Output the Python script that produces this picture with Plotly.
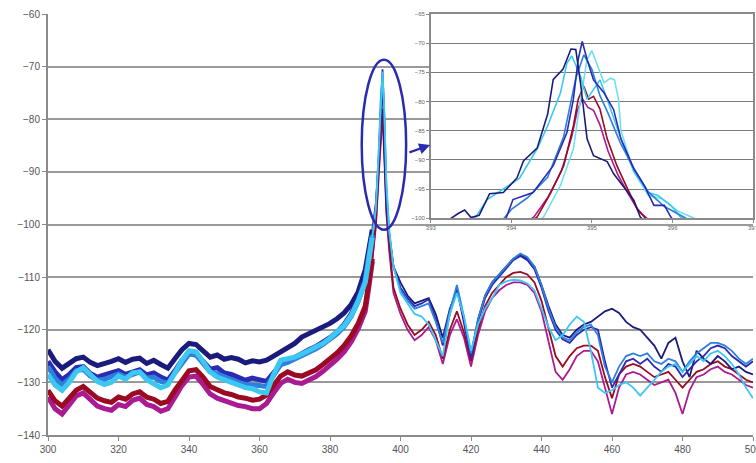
import plotly.graph_objects as go

# ---------------- main spectrum data ----------------
wl_left = list(range(300, 391, 2))
wl_peak = [391, 392, 393, 393.8, 394.4, 394.9, 395.4, 396, 396.8, 398]
wl_right = list(range(400, 501, 2))
wavelength = wl_left + wl_peak + wl_right

navy = [
    -123.8, -126.0, -127.3, -126.5, -125.5, -125.2, -126.2, -126.8, -126.5, -126.0,
    -125.5, -126.2, -125.6, -125.4, -126.4, -125.8, -126.6, -127.3, -125.5, -123.8,
    -122.6, -122.8, -124.0, -125.2, -124.8, -125.6, -125.3, -125.6, -126.3, -125.9,
    -126.1, -125.8, -125.0, -124.2, -123.6, -122.6, -121.4, -120.8, -120.2, -119.6,
    -118.8, -117.9, -116.8, -115.2, -112.8, -108.6,
    -105, -101, -96, -88, -80, -72, -85, -96, -102, -108,
    -111, -113.5, -115, -114.5, -114, -117, -121.5, -116, -112.5, -118,
    -125, -118, -113.5, -111, -109.5, -108, -106.5, -105.8, -106.5, -108,
    -111.5, -115.5, -119, -121, -121.5, -120, -119, -118.5, -117.5, -116.5,
    -116, -116.8, -118.5, -119.5, -120, -121.5, -123, -125.5, -122.5, -121.5,
    -126, -129, -124, -125.5, -126.5, -125, -126, -127.5, -127, -128, -128.5,
]
blue = [
    -126.0, -128.0, -129.5, -128.5, -127.2, -127.0, -128.3, -129.0, -128.6, -128.2,
    -127.8, -128.5, -128.0, -127.6, -128.6, -128.2, -129.0, -129.6, -127.8, -125.8,
    -124.5, -124.8, -126.0, -127.5, -127.2, -128.2, -128.5, -129.0, -129.6, -129.2,
    -129.5, -129.8, -128.2, -126.6, -126.0, -125.2, -124.5, -123.8, -123.2, -122.4,
    -121.5, -120.4, -119.0, -117.0, -114.0, -110.0,
    -106, -102, -97, -88, -78, -70.5, -80, -95, -102, -108,
    -112, -114, -115.5, -115, -114.2, -118, -123, -117, -112, -118.5,
    -125.5, -118.5, -114, -111.5, -110, -108.5, -106.8, -106, -106.8, -108.5,
    -112, -116.5, -120, -121.8, -122.5, -121, -120, -119.5, -120, -126,
    -131, -128.5, -126, -125.5, -126.5, -125.5, -127, -128, -126.5, -127,
    -129, -127.5, -126, -125, -123.5, -123, -123.5, -125, -126, -127, -126,
]
azure = [
    -127.0, -129.2, -130.5, -129.4, -127.8, -127.5, -128.8, -129.6, -129.4, -129.0,
    -128.4, -129.0, -128.4, -128.0, -129.2, -129.0, -129.8, -130.2, -128.2, -126.2,
    -124.6, -124.8, -126.4, -128.0, -128.4, -129.0, -129.4, -130.0, -130.4, -130.4,
    -130.6, -130.8, -128.6, -126.6, -126.2, -125.6, -125.0, -124.3, -123.6, -122.8,
    -121.8, -120.8, -119.4, -117.5, -114.6, -110.8,
    -106, -102, -96.5, -87, -76, -71.5, -79, -93, -101.5, -108,
    -112.5, -114.5, -116, -115.5, -115, -118.5, -122.5, -116.5, -111.5, -117.5,
    -124.5, -118, -113.5, -111, -109.5, -108, -106.5, -105.5, -106.2, -108,
    -111.5, -116, -119.5, -121.5, -122, -120.5, -119.5, -119, -121, -127,
    -130, -127, -125, -124.5, -125, -124.5, -126, -126.5, -125.5, -126,
    -128, -126, -124.5, -123.5, -122.5, -122.5, -123, -124, -125.5, -126.5, -125.5,
]
cyan = [
    -128.5, -130.5, -131.5, -130.0, -128.0, -127.2, -128.5, -129.8, -130.4, -130.0,
    -128.8, -129.4, -128.2, -128.0, -129.5, -130.2, -131.0, -130.5, -128.0, -125.8,
    -124.0, -124.2, -126.0, -128.0, -129.0, -129.4, -130.0, -130.5, -131.0, -131.2,
    -131.8, -132.0, -128.5, -125.8, -125.5, -125.2, -124.6, -124.0, -123.4, -122.6,
    -121.6, -120.5, -119.2, -117.3, -114.5, -111.0,
    -106.5, -102.5, -97, -86, -77, -71, -78, -92, -101, -108,
    -113, -115, -117, -117.5, -119, -122, -125, -117, -113, -117.5,
    -124, -119, -116, -114, -111.5, -110.8, -110.5, -110.6, -111.2, -112.5,
    -116, -119.5, -122, -121, -119, -117.5, -118.5, -124, -131, -132,
    -131.5, -130.5, -130, -131, -132.5, -131, -129.5, -128, -127, -126.5,
    -128, -126.5, -125, -126, -124.5, -124, -125, -126.5, -128.5, -131, -133,
]
red = [
    -131.5, -133.5, -134.5, -133.0, -131.5, -130.8, -132.0, -133.0, -133.5, -133.8,
    -132.8, -133.2, -132.2, -131.8, -132.8, -133.2, -134.0, -133.6, -131.5, -129.5,
    -127.8, -127.6, -129.0, -130.8, -131.5, -132.0, -132.3, -132.8, -133.0, -133.4,
    -133.2, -132.4, -130.6, -128.8, -128.0, -128.6, -128.8, -128.2, -127.6, -126.6,
    -125.6, -124.4, -123.0, -121.2, -118.8, -115.5,
    -111, -106.5, -100, -90, -82, -78, -86, -97, -104, -112,
    -116, -119, -121, -120, -118.5, -121, -125.5, -120, -116.5, -120.5,
    -126, -120, -115.5, -113, -111.5, -110, -109.2, -109, -109.5, -111,
    -114.5, -120, -125, -127, -125, -123.5, -123, -123, -124, -129,
    -133, -128.5, -127, -126.5, -127, -128, -129, -128.5, -128, -129.5,
    -131, -129.5, -128, -127.5, -126.5, -126, -127, -127.5, -128.5, -129.5, -130,
]
magenta = [
    -132.8, -135.0, -136.0, -134.4, -132.6, -132.0, -133.4, -134.5, -135.0, -135.3,
    -134.2, -134.6, -133.4, -133.0, -134.2, -134.6, -135.5, -135.0, -132.8, -130.6,
    -129.0, -128.8, -130.4, -132.2, -133.0, -133.5, -133.8, -134.4, -134.6, -135.0,
    -135.0, -134.0, -132.0, -130.2, -129.4, -130.0, -130.2, -129.6, -128.9, -127.9,
    -126.8, -125.6, -124.2, -122.3, -119.8, -116.5,
    -112, -107, -100.5, -91, -84, -79, -87, -98, -105, -113,
    -117, -120, -122, -121, -119.5, -122, -126.5, -121, -118, -121.5,
    -127, -121, -116.5, -114, -112.5, -111.5, -111, -111, -111.5, -113,
    -116.5, -122, -128, -129.5, -127.5, -125, -124, -124, -126, -131,
    -136, -131, -128.5, -128, -128.5, -129.5, -130.5, -130, -129.5, -132,
    -136, -131.5, -129, -128.5, -127.5, -127, -128, -128.5, -129.5, -130.5, -131,
]

# ---------------- inset (zoom on the peak) data ----------------
in_navy_x = [393.0, 393.2, 393.34, 393.42, 393.5, 393.6, 393.73, 393.9, 394.07, 394.15, 394.32, 394.45,
             394.52, 394.64, 394.74, 394.8, 394.86, 394.94, 395.02, 395.19, 395.27, 395.44, 395.52, 395.6, 395.7]
in_navy_y = [-101, -100.5, -99.2, -98.6, -99.9, -99.5, -95.8, -95.6, -93.1, -90.2, -88, -82.2,
             -76.2, -74.5, -71, -71.1, -77, -86.4, -89.3, -90.3, -92.4, -95.6, -96.9, -99.8, -101]
in_blue_x = [393.9, 393.94, 394.02, 394.27, 394.52, 394.69, 394.77, 394.83, 394.88, 394.94, 395.02, 395.15,
             395.27, 395.36, 395.52, 395.65, 395.77, 395.9, 395.98, 396.05]
in_blue_y = [-101, -99.8, -96.8, -95.6, -91, -85.3, -79.6, -72.8, -69.7, -72.8, -76.3, -78.5,
             -81.4, -86.4, -91.5, -94.4, -97.8, -97.8, -99.8, -101]
in_azure_x = [393.85, 394.0, 394.2, 394.45, 394.65, 394.8, 394.9, 395.0, 395.1, 395.2, 395.35, 395.5,
              395.7, 395.9, 396.1, 396.3]
in_azure_y = [-101, -98.5, -96.5, -93, -86, -76, -72, -74.5, -79, -82, -87, -91,
              -95.5, -98, -99.5, -101]
in_cyan_x = [393.5, 393.7, 393.9, 394.1, 394.32, 394.45, 394.61, 394.69, 394.75, 394.86, 394.94, 395.1,
             395.19, 395.36, 395.52, 395.7, 395.82, 395.98, 396.1, 396.25]
in_cyan_y = [-101, -96.8, -95, -93.2, -88.1, -84.2, -78.5, -73.4, -72.2, -75.7, -79.6, -76.3,
             -79.6, -86.4, -92, -95.6, -96.1, -97.8, -99.8, -101]
in_aqua_x = [394.3, 394.4, 394.61, 394.77, 394.86, 394.94, 395.0, 395.07, 395.15, 395.23, 395.28, 395.33,
             395.36, 395.52, 395.7, 395.86, 396.07, 396.27, 396.4]
in_aqua_y = [-101, -99.8, -94.4, -88.1, -79.6, -72.8, -71.3, -74, -76.8, -76, -76.3, -79.6,
             -85, -92, -96.1, -96.6, -98.8, -100, -101]
in_red_x = [394.2, 394.32, 394.49, 394.65, 394.77, 394.83, 394.9, 394.96, 395.02, 395.1, 395.19, 395.31,
            395.44, 395.56, 395.65, 395.75]
in_red_y = [-101, -99.8, -95.6, -91, -84.2, -79.6, -77.4, -79.6, -79.1, -81.3, -86.4, -91,
            -94.9, -98.3, -99.8, -101]
in_mag_x = [394.15, 394.28, 394.45, 394.62, 394.75, 394.82, 394.88, 394.95, 395.02, 395.1, 395.2, 395.32,
            395.45, 395.58, 395.68, 395.78]
in_mag_y = [-101, -99.8, -96.5, -92, -86, -81.5, -79.5, -81, -81.5, -84, -88.5, -92.5,
            -95.8, -98.8, -100, -101]

main_ticks_x = [300, 320, 340, 360, 380, 400, 420, 440, 460, 480, 500]
main_ticks_y = [-140, -130, -120, -110, -100, -90, -80, -70, -60]
inset_ticks_x = [393, 394, 395, 396, 397]
inset_ticks_y = [-100, -95, -90, -85, -80, -75, -70, -65]

C_NAVY = "#1b1b7c"
C_BLUE = "#2a2ab4"
C_AZURE = "#2f7fdc"
C_CYAN = "#3cc8f2"
C_AQUA = "#6fe0ee"
C_RED = "#9a0a22"
C_MAG = "#aa1a92"

fig = go.Figure()

n_left = len(wl_left) + 2  # noisy part drawn as a thick band
main_series = [(magenta, C_MAG), (red, C_RED), (navy, C_NAVY), (blue, C_BLUE), (azure, C_AZURE), (cyan, C_CYAN)]
for vals, col in main_series:
    fig.add_trace(go.Scatter(x=wavelength[:n_left], y=vals[:n_left], mode="lines",
                             line=dict(color=col, width=5), showlegend=False, xaxis="x", yaxis="y"))
    fig.add_trace(go.Scatter(x=wavelength[n_left - 1:], y=vals[n_left - 1:], mode="lines",
                             line=dict(color=col, width=1.8), showlegend=False, xaxis="x", yaxis="y"))

inset_series = [(in_mag_x, in_mag_y, C_MAG), (in_red_x, in_red_y, C_RED), (in_aqua_x, in_aqua_y, C_AQUA),
                (in_cyan_x, in_cyan_y, C_CYAN), (in_azure_x, in_azure_y, C_AZURE),
                (in_blue_x, in_blue_y, C_BLUE), (in_navy_x, in_navy_y, C_NAVY)]
for xs, ys, col in inset_series:
    fig.add_trace(go.Scatter(x=xs, y=ys, mode="lines", line=dict(color=col, width=1.6),
                             showlegend=False, xaxis="x2", yaxis="y2"))

axis_col = "#8a8a8a"
grid_col = "#9a9a9a"
tick_font = dict(family="Liberation Sans, Arial, sans-serif", size=10, color="#555555")
small_font = dict(family="Liberation Sans, Arial, sans-serif", size=6, color="#666666")

fig.update_layout(
    width=756, height=463,
    margin=dict(l=48, r=3, t=14, b=28, autoexpand=False),
    paper_bgcolor="white", plot_bgcolor="white",
    xaxis=dict(range=[300, 500], tickvals=main_ticks_x, showgrid=False, showline=True,
               linecolor=axis_col, linewidth=2, ticks="outside", ticklen=4, tickcolor=axis_col,
               tickfont=tick_font, zeroline=False, domain=[0, 1], anchor="y",
               ticklabeloverflow="allow", automargin=False),
    yaxis=dict(range=[-140, -60], tickvals=main_ticks_y, showgrid=True, gridcolor=grid_col,
               gridwidth=1.5, showline=True, linecolor=axis_col, linewidth=2, ticks="outside",
               ticklen=4, tickcolor=axis_col, tickfont=tick_font, zeroline=False,
               domain=[0, 1], anchor="x", automargin=False),
    xaxis2=dict(range=[393, 397], tickvals=inset_ticks_x, showgrid=False, showline=True,
                linecolor=axis_col, linewidth=1.5, mirror=True, ticks="outside", ticklen=3,
                tickcolor=axis_col, tickfont=small_font, zeroline=False,
                domain=[0.543, 1.0], anchor="y2", ticklabeloverflow="allow", automargin=False),
    yaxis2=dict(range=[-100, -65], tickvals=inset_ticks_y, showgrid=True, gridcolor="#7a7a7a",
                gridwidth=1.2, showline=True, linecolor=axis_col, linewidth=1.5, mirror=True,
                ticks="outside", ticklen=3, tickcolor=axis_col, tickfont=small_font,
                zeroline=False, domain=[0.515, 1.0], anchor="x2", automargin=False),
    shapes=[dict(type="circle", xref="x", yref="y", x0=389, x1=401.6, y0=-101, y1=-68.7,
                 line=dict(color="#2b2bb0", width=2.5))],
    annotations=[dict(x=408.4, y=-84.9, ax=402.1, ay=-86.4, xref="x", yref="y", axref="x", ayref="y",
                      showarrow=True, arrowhead=2, arrowsize=1, arrowwidth=2.2, arrowcolor="#2b2bb0",
                      text="")],
)

fig.write_html("out.html")
